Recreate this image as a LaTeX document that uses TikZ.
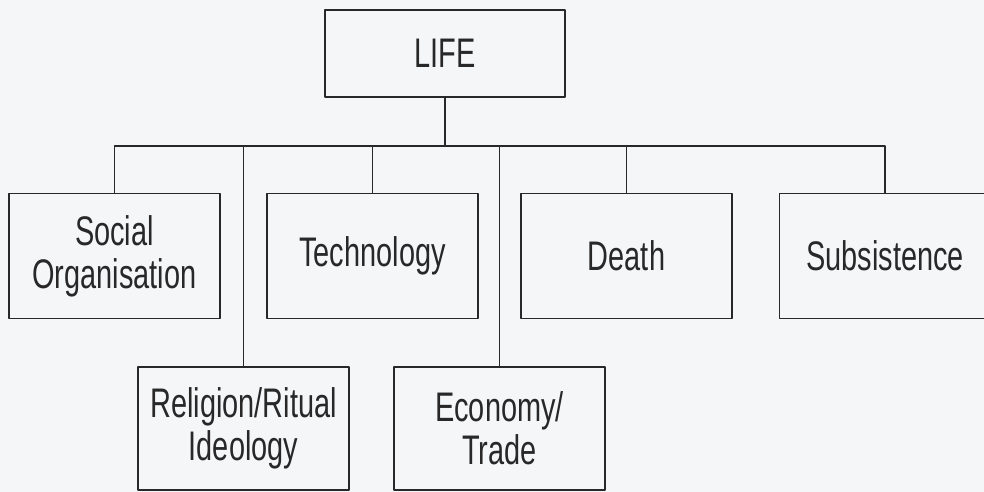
\documentclass[tikz,border=0pt]{standalone}
\usepackage{fontspec}
\setmainfont[FakeStretch=0.7]{Liberation Sans}
\usepackage{xcolor}
\definecolor{paper}{RGB}{245,246,248}
\definecolor{ink}{RGB}{40,40,40}
\tikzset{
  topic/.style={draw=ink,line width=1.3pt,fill=paper,align=center,inner sep=0pt,
    minimum width=158.25pt,minimum height=93.75pt,
    font=\fontsize{31}{32}\selectfont,text=ink},
  lowtopic/.style={topic,minimum height=92.25pt},
  root/.style={topic,minimum width=180pt,minimum height=65.25pt},
  branch/.style={draw=ink,line width=1.1pt}
}

\begin{document}
\begin{tikzpicture}[line cap=round,line join=round,x=0.75pt,y=-0.75pt]
    \fill [paper] (0,0) rectangle (984,492);
    \useasboundingbox (0,0) rectangle (984,492);
    % top of the tree
    \node [root] (life) at (445,53.5) {LIFE};
    \coordinate (bar) at (0,146);
    % first row
    \node [topic] (social) at (114.5,256) {Social\\Organisation};
    \node [topic] (tech) at (372.5,256) {Technology};
    \node [topic] (death) at (626.5,256) {Death};
    \node [topic] (subsist) at (885,256) {Subsistence};
    % second row
    \node [lowtopic] (relig) at (243.5,428.5) {Religion/Ritual\\Ideology};
    \node [lowtopic] (econ) at (499.5,428.5) {Economy/\\Trade};
    % connectors
    \draw [branch] (life.south) -- (life.south |- bar);
    \draw [branch] (social.north) -- (social.north |- bar) -- (subsist.north |- bar) -- (subsist.north);
    \draw [branch] (tech.north) -- (tech.north |- bar);
    \draw [branch] (death.north) -- (death.north |- bar);
    \draw [branch] (relig.north) -- (relig.north |- bar);
    \draw [branch] (econ.north) -- (econ.north |- bar);
\end{tikzpicture}
\end{document}
